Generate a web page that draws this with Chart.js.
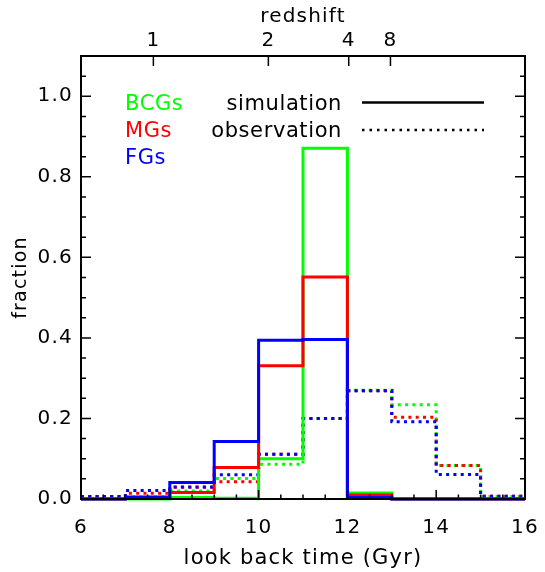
<!DOCTYPE html>
<html><head><meta charset="utf-8">
<script src="https://cdn.jsdelivr.net/npm/chart.js@4"></script>
<style>html,body{margin:0;padding:0;background:#fff}</style>
</head><body>
<div style="width:545px;height:572px;position:relative"><canvas id="c" width="545" height="572"></canvas></div>
<script>
// ---- data ----
const binEdges = [6,7,8,9,10,11,12,13,14,15,16];
const bcgSim = [0,0,0.004,0.002,0.100,0.871,0.015,0,0,0];
const mgSim  = [0,0.002,0.016,0.078,0.331,0.551,0.010,0,0,0];
const fgSim  = [0,0.005,0.041,0.143,0.394,0.396,0.004,0,0,0];
const bcgObs = [0.005,0.005,0.020,0.051,0.086,0.200,0.270,0.234,0.083,0.006];
const mgObs  = [0.006,0.014,0.029,0.043,0.111,0.200,0.269,0.203,0.083,0.007];
const fgObs  = [0.006,0.021,0.030,0.060,0.111,0.200,0.269,0.192,0.061,0.007];
const xTicks = [6,8,10,12,14,16];
const yTicks = [0,0.2,0.4,0.6,0.8,1.0];
const redshiftLabels = ['1','2','4','8'];
const redshiftLookback = [7.63,10.22,12.03,12.97];
const groupNames = ['BCGs','MGs','FGs'];
const typeNames = ['simulation','observation'];

const GREEN='#00ff00', RED='#ff0000', BLUE='#0000ff';
const FONT='DejaVu Sans';

function steps(vals){
  return binEdges.map((e,i)=>({x:e, y: vals[Math.min(i, vals.length-1)]}));
}
function ds(vals,color,dotted){
  return {data: steps(vals), borderColor: color, backgroundColor: color,
    borderWidth: 3, stepped: 'before', pointRadius: 0, fill: false,
    borderDash: dotted ? [3,4.3] : [], borderCapStyle:'butt', clip: 6,
    xAxisID:'x', yAxisID:'y'};
}

const spacingPlugin = {
  id:'spacing',
  beforeDraw(chart){ chart.ctx.letterSpacing = '1.2px'; }
};

const framePlugin = {
  id:'frame',
  afterDraw(chart){
    const {ctx, chartArea:a, scales} = chart;
    const xs = scales.x, ys = scales.y, x2 = scales.x2;
    ctx.save();
    ctx.strokeStyle='#000'; ctx.lineWidth=2; ctx.setLineDash([]);
    ctx.strokeRect(a.left, a.top, a.right-a.left, a.bottom-a.top);
    ctx.lineWidth=1.5;
    ctx.beginPath();
    for(let v=xs.min; v<=xs.max+1e-9; v+=0.5){
      const px = xs.getPixelForValue(v);
      const len = xTicks.includes(Math.round(v*10)/10) ? 9 : 4.5;
      ctx.moveTo(px, a.bottom); ctx.lineTo(px, a.bottom-len);
    }
    for(let k=0; k<=22; k++){
      const v = k*0.05;
      const py = ys.getPixelForValue(v);
      const len = (k%4===0) ? 10 : 5;
      ctx.moveTo(a.left, py); ctx.lineTo(a.left+len, py);
      ctx.moveTo(a.right, py); ctx.lineTo(a.right-len, py);
    }
    redshiftLookback.forEach(v=>{
      const px = x2.getPixelForValue(v);
      ctx.moveTo(px, a.top); ctx.lineTo(px, a.top+10);
    });
    ctx.stroke();

    // legend
    ctx.letterSpacing = '0.6px';
    ctx.font = '21px "'+FONT+'"';
    ctx.textBaseline='alphabetic';
    ctx.textAlign='left';
    const gcol=[GREEN,RED,BLUE];
    const gy=[110,137,164];
    groupNames.forEach((n,i)=>{ctx.fillStyle=gcol[i]; ctx.fillText(n,125,gy[i]);});
    ctx.fillStyle='#000'; ctx.textAlign='right';
    ctx.fillText(typeNames[0],342,110);
    ctx.fillText(typeNames[1],342,137);
    ctx.strokeStyle='#000'; ctx.lineWidth=2.5;
    ctx.beginPath(); ctx.moveTo(362,102.5); ctx.lineTo(484,102.5); ctx.stroke();
    ctx.setLineDash([2.5,5]);
    ctx.beginPath(); ctx.moveTo(362,130); ctx.lineTo(484,130); ctx.stroke();
    ctx.restore();
  }
};

function fixH(h){ return s=>{ s.height=h; s.paddingLeft=0; s.paddingRight=0; }; }

const tickFont = {family: FONT, size: 20};
new Chart(document.getElementById('c'), {
  type:'line',
  data:{ datasets:[
    ds(fgSim,BLUE,false), ds(mgSim,RED,false), ds(bcgSim,GREEN,false),
    ds(fgObs,BLUE,true), ds(mgObs,RED,true), ds(bcgObs,GREEN,true)
  ]},
  options:{
    responsive:false, animation:false, devicePixelRatio:1,
    layout:{padding:{left:0,right:20,top:0,bottom:0}},
    plugins:{legend:{display:false}, tooltip:{enabled:false}},
    scales:{
      x:{type:'linear', position:'bottom', min:6, max:16,
        afterBuildTicks:s=>{s.ticks = xTicks.map(v=>({value:v}));},
        grid:{display:false, drawTicks:false}, border:{display:false},
        ticks:{font:tickFont, color:'#000', padding:17, maxRotation:0, autoSkip:false, callback:v=>String(v)},
        title:{display:true, text:'look back time (Gyr)', font:{family:FONT,size:21}, color:'#000', padding:{top:0,bottom:1}},
        afterFit:fixH(73)},
      x2:{type:'linear', position:'top', min:6, max:16,
        afterBuildTicks:s=>{s.ticks = redshiftLookback.map(v=>({value:v}));},
        grid:{display:false, drawTicks:false}, border:{display:false},
        ticks:{font:tickFont, color:'#000', padding:3, maxRotation:0, autoSkip:false, callback:(v,i)=>redshiftLabels[i]},
        title:{display:true, text:'redshift', font:{family:FONT,size:20}, color:'#000', padding:{top:5,bottom:0}},
        afterFit:fixH(56)},
      y:{type:'linear', position:'left', min:0, max:1.1,
        afterBuildTicks:s=>{s.ticks = yTicks.map(v=>({value:v}));},
        grid:{display:false, drawTicks:false}, border:{display:false},
        ticks:{font:tickFont, color:'#000', padding:8, autoSkip:false, callback:v=>v.toFixed(1)},
        title:{display:true, text:'fraction', font:{family:FONT,size:19}, color:'#000', padding:{top:10,bottom:0}},
        afterFit:s=>{s.width=81; s.paddingTop=0; s.paddingBottom=0;}}
    }
  },
  plugins:[spacingPlugin, framePlugin]
});
</script>
</body></html>
